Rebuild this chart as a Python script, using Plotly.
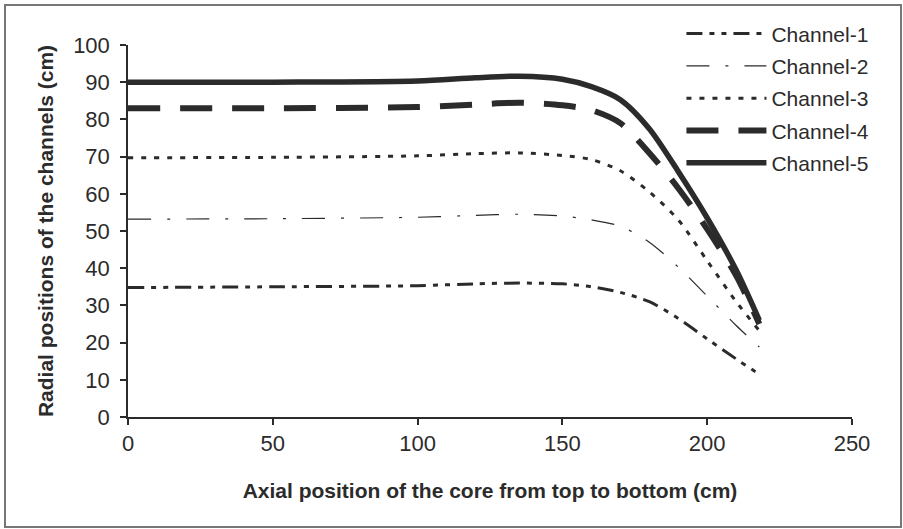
import plotly.graph_objects as go

# ---- data ----
axial_cm = [0, 50, 100, 120, 135, 150, 160, 170, 180, 190, 200, 210, 218]
channel_1 = [34.8, 35.0, 35.3, 35.8, 36.0, 35.8, 35.0, 33.5, 31.0, 26.5, 21.0, 15.6, 11.5]
channel_2 = [53.2, 53.3, 53.7, 54.2, 54.5, 54.0, 53.0, 51.3, 47.0, 40.3, 32.5, 24.6, 18.8]
channel_3 = [69.7, 69.8, 70.2, 70.8, 71.0, 70.3, 69.2, 66.2, 60.5, 53.0, 42.0, 31.0, 23.2]
channel_4 = [83.0, 83.0, 83.3, 84.0, 84.5, 83.8, 82.5, 79.0, 71.0, 61.5, 50.5, 38.0, 25.0]
channel_5 = [90.0, 90.0, 90.3, 91.2, 91.6, 90.8, 88.8, 85.3, 77.5, 66.0, 53.5, 39.5, 26.0]
series_names = ["Channel-1", "Channel-2", "Channel-3", "Channel-4", "Channel-5"]
x_ticks = [0, 50, 100, 150, 200, 250]
y_ticks = [0, 10, 20, 30, 40, 50, 60, 70, 80, 90, 100]

# ---- styles ----
ink = "#2b2b2b"
styles = [
    dict(width=3, dash="16px,7px,5px,7px,5px,7px"),
    dict(width=1.2, dash="23px,16px,3px,16px"),
    dict(width=3, dash="5px,8px"),
    dict(width=6, dash="32px,20px"),
    dict(width=5.5, dash="solid"),
]

fig = go.Figure()
for i, (name, ys) in enumerate(zip(series_names, [channel_1, channel_2, channel_3, channel_4, channel_5])):
    fig.add_trace(go.Scatter(
        x=axial_cm, y=ys, name=name, mode="lines",
        line=dict(color=ink, width=styles[i]["width"], dash=styles[i]["dash"],
                  shape="spline", smoothing=0.8),
        legendgroup=name,
    ))

fig.update_layout(
    width=903, height=529,
    margin=dict(l=128, r=51, t=45, b=112, autoexpand=False),
    paper_bgcolor="white", plot_bgcolor="white",
    font=dict(family="Liberation Sans, Arial, sans-serif", color=ink),
    showlegend=True,
    legend=dict(
        x=1.031, y=1.085, xanchor="right", yanchor="top",
        font=dict(size=21, color=ink),
        bgcolor="rgba(0,0,0,0)",
        itemwidth=80,
        tracegroupgap=2,
    ),
    xaxis=dict(
        range=[0, 250], tickvals=x_ticks, showgrid=False, zeroline=False,
        showline=True, linecolor=ink, linewidth=1.5,
        ticks="outside", ticklen=6, tickcolor=ink, tickwidth=1.5,
        tickfont=dict(size=22, color=ink),
        title=dict(text="<b>Axial position of the core from top to bottom (cm)</b>",
                   font=dict(size=21, color=ink), standoff=28),
    ),
    yaxis=dict(
        range=[0, 100], tickvals=y_ticks, showgrid=False, zeroline=False,
        showline=True, linecolor=ink, linewidth=1.5,
        ticks="outside", ticklen=6, tickcolor=ink, tickwidth=1.5,
        ticklabelstandoff=6,
        tickfont=dict(size=22, color=ink),
        title=dict(text="<b>Radial positions of the channels (cm)</b>",
                   font=dict(size=21, color=ink), standoff=14),
    ),
    shapes=[dict(type="rect", xref="paper", yref="paper",
                 x0=-0.1699, x1=1.0677, y0=-0.296, y1=1.1075,
                 line=dict(color="#777777", width=2), layer="below")],
)

fig.write_html("out.html")
